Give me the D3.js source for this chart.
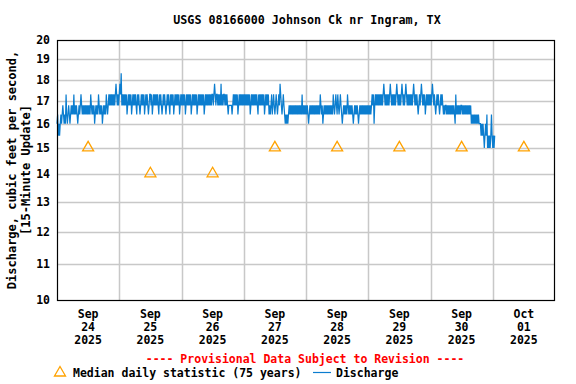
<!DOCTYPE html>
<html>
<head>
<meta charset="utf-8">
<script src="https://cdn.jsdelivr.net/npm/d3@7"></script>
<style>
  body { margin: 0; background: #fff; }
  text { font-family: "DejaVu Sans Mono", monospace; font-weight: bold; }
</style>
</head>
<body>
<div id="chart"></div>
<script>
// discharge levels the gage reports (cfs); codes below index into this
var levels = [15.0, 15.5, 16.0, 16.4, 16.8, 17.3, 17.8, 18.3];

// 15-minute discharge, one string per 12 hours, starting Sep 24 00:00
var dischargeCodes = [
    "23121232 34323253 23432343 43534343 23434543 43434343",
    "43435434 34234343 54343423 43435434 54545454 54565454",
    "56574545 45453454 54534545 45435454 34545453 45454345",
    "54534545 45454354 54345454 34545435 45453454 54545345",
    "45454534 54545453 45454545 34545454 54534545 45454545",
    "54565455 45454645 45545454 34444434 54545453 45454545",
    "45454545 45345454 54545435 45454545 34545453 43453454",
    "34543454 65434543 23232343 43434343 43434343 43534343",
    "43432343 43434343 43434354 34234343 43434343 43543454",
    "35434543 23434343 54343434 32343434 32343434 34343434",
    "34343454 52454545 45454545 65454545 45654545 45456545",
    "45456545 45654545 45454565 45454345 45654545 34545454",
    "54565454 34545434 54543434 43434343 43434325 34343434",
    "43434343 43434342 32323232 32322212 12101213 01010131",
    "0101"
];

// median daily statistic (75 years), plotted at noon
var medianDays = ["2025-09-24", "2025-09-25", "2025-09-26", "2025-09-27",
                  "2025-09-28", "2025-09-29", "2025-09-30", "2025-10-01"];
var medianValues = [15, 14, 14, 15, 15, 15, 15, 15];

var yTicks = [10, 11, 12, 13, 14, 15, 16, 17, 18, 19, 20];
var xMonths = ["Sep", "Sep", "Sep", "Sep", "Sep", "Sep", "Sep", "Oct"];
var xDays = ["24", "25", "26", "27", "28", "29", "30", "01"];

var width = 576, height = 384;
var plot = {left: 57, right: 555, top: 40, bottom: 300};
var blue = "#0b7dcf", orange = "#ffa200";

var svg = d3.select("#chart").append("svg")
    .attr("width", width)
    .attr("height", height);

var t0 = Date.UTC(2025, 8, 24);
var x = d3.scaleUtc()
    .domain([new Date(t0), new Date(Date.UTC(2025, 9, 2))])
    .range([plot.left, plot.right]);
var y = d3.scaleLog()
    .domain([10, 20])
    .range([plot.bottom, plot.top]);

var codes = dischargeCodes.join("").replace(/ /g, "");
var data = codes.split("").map(function(c, i) {
    return {t: new Date(t0 + i * 15 * 60000), v: levels[+c]};
});

// grid
var dayBounds = d3.utcDay.range(new Date(t0 + 1), x.domain()[1]);
svg.append("g").selectAll("line")
    .data(dayBounds)
    .enter().append("line")
    .attr("x1", function(d) { return Math.round(x(d)) + 0.5; })
    .attr("x2", function(d) { return Math.round(x(d)) + 0.5; })
    .attr("y1", plot.top)
    .attr("y2", plot.bottom)
    .attr("stroke", "#c8c8c8")
    .attr("stroke-width", 1.5);

svg.append("g").selectAll("line")
    .data(yTicks.slice(1, -1))
    .enter().append("line")
    .attr("x1", plot.left)
    .attr("x2", plot.right)
    .attr("y1", function(d) { return Math.round(y(d)) + 0.5; })
    .attr("y2", function(d) { return Math.round(y(d)) + 0.5; })
    .attr("stroke", "#c8c8c8")
    .attr("stroke-width", 1.5);

// discharge line
var line = d3.line()
    .x(function(d) { return x(d.t); })
    .y(function(d) { return y(d.v); });

svg.append("path")
    .datum(data)
    .attr("d", line)
    .attr("fill", "none")
    .attr("stroke", blue)
    .attr("stroke-width", 1.2);

// median triangles
var tri = "M0,-5.5L5.5,4L-5.5,4Z";
svg.append("g").selectAll("path")
    .data(medianDays)
    .enter().append("path")
    .attr("d", tri)
    .attr("transform", function(d, i) {
        var tm = new Date(d + "T12:00:00Z");
        return "translate(" + x(tm) + "," + (y(medianValues[i]) - 1) + ")";
    })
    .attr("fill", "none")
    .attr("stroke", orange)
    .attr("stroke-width", 1.3);

// frame
svg.append("rect")
    .attr("x", plot.left + 0.5)
    .attr("y", plot.top + 0.5)
    .attr("width", plot.right - plot.left - 1)
    .attr("height", plot.bottom - plot.top)
    .attr("fill", "none")
    .attr("stroke", "#000")
    .attr("stroke-width", 1.2);

// y tick labels
svg.append("g").selectAll("text")
    .data(yTicks)
    .enter().append("text")
    .attr("x", 50)
    .attr("y", function(d) { return y(d); })
    .attr("dy", "0.35em")
    .attr("text-anchor", "end")
    .attr("font-size", "11.5px")
    .text(function(d) { return d; });

// x tick labels, three lines at noon
var xl = svg.append("g").selectAll("text")
    .data(medianDays)
    .enter().append("text")
    .attr("text-anchor", "middle")
    .attr("font-size", "11.5px");
xl.each(function(d, i) {
    var cx = x(new Date(d + "T12:00:00Z"));
    var el = d3.select(this);
    [xMonths[i], xDays[i], d.slice(0, 4)].forEach(function(s, k) {
        el.append("tspan").attr("x", cx).attr("y", 318 + k * 13).text(s);
    });
});

// title
svg.append("text")
    .attr("x", 307)
    .attr("y", 24)
    .attr("text-anchor", "middle")
    .attr("font-size", "11.7px")
    .text("USGS 08166000 Johnson Ck nr Ingram, TX");

// y axis label
var yl = svg.append("text")
    .attr("transform", "translate(0,170) rotate(-90)")
    .attr("text-anchor", "middle")
    .attr("font-size", "12px");
yl.append("tspan").attr("x", 0).attr("y", 16).text("Discharge, cubic feet per second,");
yl.append("tspan").attr("x", 0).attr("y", 30).text("[15-Minute Update]");

// provisional note
svg.append("text")
    .attr("x", 305)
    .attr("y", 363)
    .attr("text-anchor", "middle")
    .attr("font-size", "11.5px")
    .attr("fill", "#ff0000")
    .text("---- Provisional Data Subject to Revision ----");

// legend
svg.append("path")
    .attr("d", tri)
    .attr("transform", "translate(60,372)")
    .attr("fill", "none")
    .attr("stroke", orange)
    .attr("stroke-width", 1.3);
svg.append("text")
    .attr("x", 73)
    .attr("y", 377)
    .attr("font-size", "11.5px")
    .text("Median daily statistic (75 years)");
svg.append("line")
    .attr("x1", 313).attr("x2", 331)
    .attr("y1", 372.5).attr("y2", 372.5)
    .attr("stroke", blue)
    .attr("stroke-width", 1.2);
svg.append("text")
    .attr("x", 336)
    .attr("y", 377)
    .attr("font-size", "11.5px")
    .text("Discharge");
</script>
</body>
</html>
